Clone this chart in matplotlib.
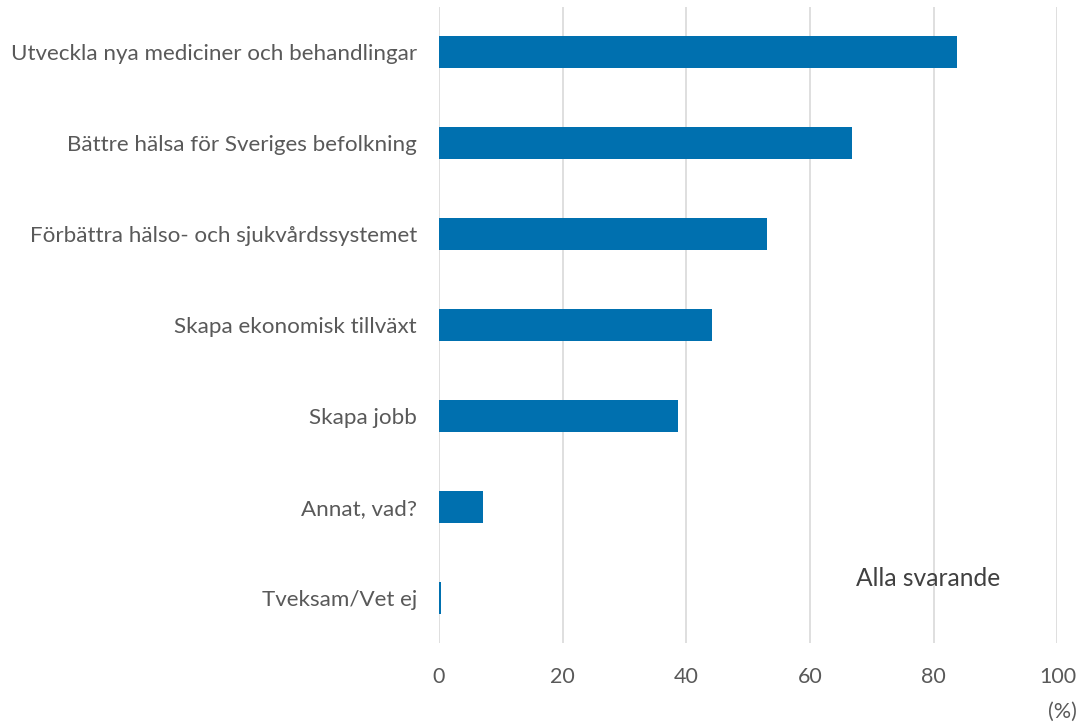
import matplotlib
matplotlib.use("Agg")
import matplotlib.pyplot as plt

categories = [
    "Utveckla nya mediciner och behandlingar",
    "Bättre hälsa för Sveriges befolkning",
    "Förbättra hälso- och sjukvårdssystemet",
    "Skapa ekonomisk tillväxt",
    "Skapa jobb",
    "Annat, vad?",
    "Tveksam/Vet ej",
]
values = [83.7, 66.7, 53.1, 44.1, 38.6, 7.1, 0.4]
xticks = [0, 20, 40, 60, 80, 100]

plt.rcParams['font.family'] = ['Lato', 'DejaVu Sans']
W, H = 1079, 726
fig = plt.figure(figsize=(W / 100, H / 100), dpi=100)
ax = fig.add_axes([439 / W, 1 - 643 / H, (1057.5 - 439) / W, (643 - 6.5) / H])

ypos = list(range(len(categories)))
ax.barh(ypos, values, height=0.352, color="#0070AF", zorder=3)
ax.set_ylim(len(categories) - 0.5, -0.5)
ax.set_xlim(0, 100)
ax.set_xticks(xticks)
ax.set_yticks(ypos)
ax.set_yticklabels(categories)
ax.grid(axis="x", color="#d9d9d9", linewidth=1.2, zorder=0)
for s in ax.spines.values():
    s.set_visible(False)
ax.tick_params(axis="both", length=0, colors="#595959")
ax.tick_params(axis="y", pad=16, labelsize=16.1)
ax.tick_params(axis="x", pad=17, labelsize=15.5)

ax.text(0.675, 0.102, "Alla svarande", transform=ax.transAxes, fontsize=17.7,
        color="#404040", va="center", ha="left")
fig.text(1048 / W, 1 - 712 / H, "(%)", fontsize=15.5, color="#595959",
         va="center", ha="left")

fig.savefig("out.png", dpi=100)
